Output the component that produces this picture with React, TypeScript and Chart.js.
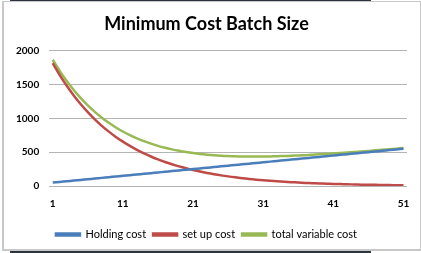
import React, { useEffect, useRef } from "react";
import { Chart, registerables } from "chart.js";

Chart.register(...registerables);

const batchSizes: string[] = Array.from({ length: 51 }, (_, i) => String(i + 1));

const holdingCost: number[] = [
  50, 60, 70, 80, 90, 100, 110, 120, 130, 140,
  150, 160, 170, 180, 190, 200, 210, 220, 230, 240,
  250, 260, 270, 280, 290, 300, 310, 320, 330, 340,
  350, 360, 370, 380, 390, 400, 410, 420, 430, 440,
  450, 460, 470, 480, 490, 500, 510, 520, 530, 540,
  550,
];

const setupCost: number[] = [
  1815, 1639, 1480, 1337, 1207, 1090, 985, 889, 803, 725,
  655, 592, 534, 482, 436, 393, 355, 321, 290, 262,
  236, 213, 193, 174, 157, 142, 128, 116, 105, 94,
  85, 77, 70, 63, 57, 51, 46, 42, 38, 34,
  31, 28, 25, 23, 20, 18, 17, 15, 13, 12,
  11,
];

const totalCost: number[] = [
  1865, 1699, 1550, 1417, 1297, 1190, 1095, 1009, 933, 865,
  805, 752, 704, 662, 626, 593, 565, 541, 520, 502,
  486, 473, 463, 454, 447, 442, 438, 436, 435, 434,
  435, 437, 440, 443, 447, 451, 456, 462, 468, 474,
  481, 488, 495, 503, 510, 518, 527, 535, 543, 552,
  561,
];

const seriesNames = ["Holding cost", "set up cost", "total variable cost"];
const yTicks = [0, 500, 1000, 1500, 2000];

export default function App() {
  const ref = useRef<HTMLCanvasElement | null>(null);
  useEffect(() => {
    if (!ref.current) return;
    const font = "Lato, 'DejaVu Sans', sans-serif";
    const chart = new Chart(ref.current, {
      type: "line",
      data: {
        labels: batchSizes,
        datasets: [
          { label: seriesNames[0], data: holdingCost, borderColor: "#4a7ebb", backgroundColor: "#4a7ebb" },
          { label: seriesNames[1], data: setupCost, borderColor: "#be4b48", backgroundColor: "#be4b48" },
          { label: seriesNames[2], data: totalCost, borderColor: "#98b954", backgroundColor: "#98b954" },
        ].map((d) => ({ ...d, borderWidth: 2.5, pointRadius: 0, tension: 0.2, fill: false })),
      },
      options: {
        responsive: false,
        animation: false,
        devicePixelRatio: 1,
        layout: { padding: { left: 6, right: 14, top: 11, bottom: 3 } },
        plugins: {
          title: {
            display: true,
            text: "Minimum Cost Batch Size",
            color: "#000",
            font: { family: font, size: 18, weight: "bold" },
            padding: { top: 2, bottom: 16 },
          },
          legend: {
            position: "bottom",
            labels: {
              color: "#000",
              boxWidth: 24,
              boxHeight: 2,
              padding: 7,
              font: { family: font, size: 11 },
            },
          },
          tooltip: { enabled: false },
        },
        scales: {
          x: {
            offset: true,
            grid: { display: false },
            border: { display: false },
            afterFit: (axis: any) => {
              axis.height += 8;
            },
            ticks: {
              autoSkip: false,
              maxRotation: 0,
              color: "#000",
              padding: 4,
              font: { family: font, size: 10, weight: "bold" },
              callback: (_v: any, i: number) => (i % 10 === 0 ? batchSizes[i] : ""),
            },
          },
          y: {
            min: yTicks[0],
            max: yTicks[yTicks.length - 1],
            afterBuildTicks: (axis: any) => {
              axis.ticks = yTicks.map((v) => ({ value: v }));
            },
            grid: { color: "#b4b4b4", lineWidth: 1, drawTicks: false },
            border: { display: false },
            ticks: {
              color: "#000",
              padding: 10,
              font: { family: font, size: 10, weight: "bold" },
              callback: (v: any) => String(v),
            },
          },
        },
      },
    });
    return () => chart.destroy();
  }, []);

  return (
    <div style={{ position: "relative", width: 421, height: 253, background: "#fff", overflow: "hidden" }}>
      <style>{`body{margin:0}`}</style>
      <div style={{ position: "absolute", left: 10, top: 0, width: 361, height: 1, background: "#2c3440" }} />
      <div style={{ position: "absolute", left: 10, top: 250, width: 361, height: 3, background: "#2c3440" }} />
      <div
        style={{
          position: "absolute",
          left: 2,
          top: 1,
          width: 416,
          height: 247,
          borderTop: "1px solid #c8c8c8",
          borderLeft: "2px solid #c8c8c8",
          borderRight: "2px solid #c8c8c8",
          borderBottom: "2px solid #c8c8c8",
        }}
      />
      <canvas ref={ref} width={421} height={253} style={{ position: "absolute", left: 0, top: 0 }} />
    </div>
  );
}
